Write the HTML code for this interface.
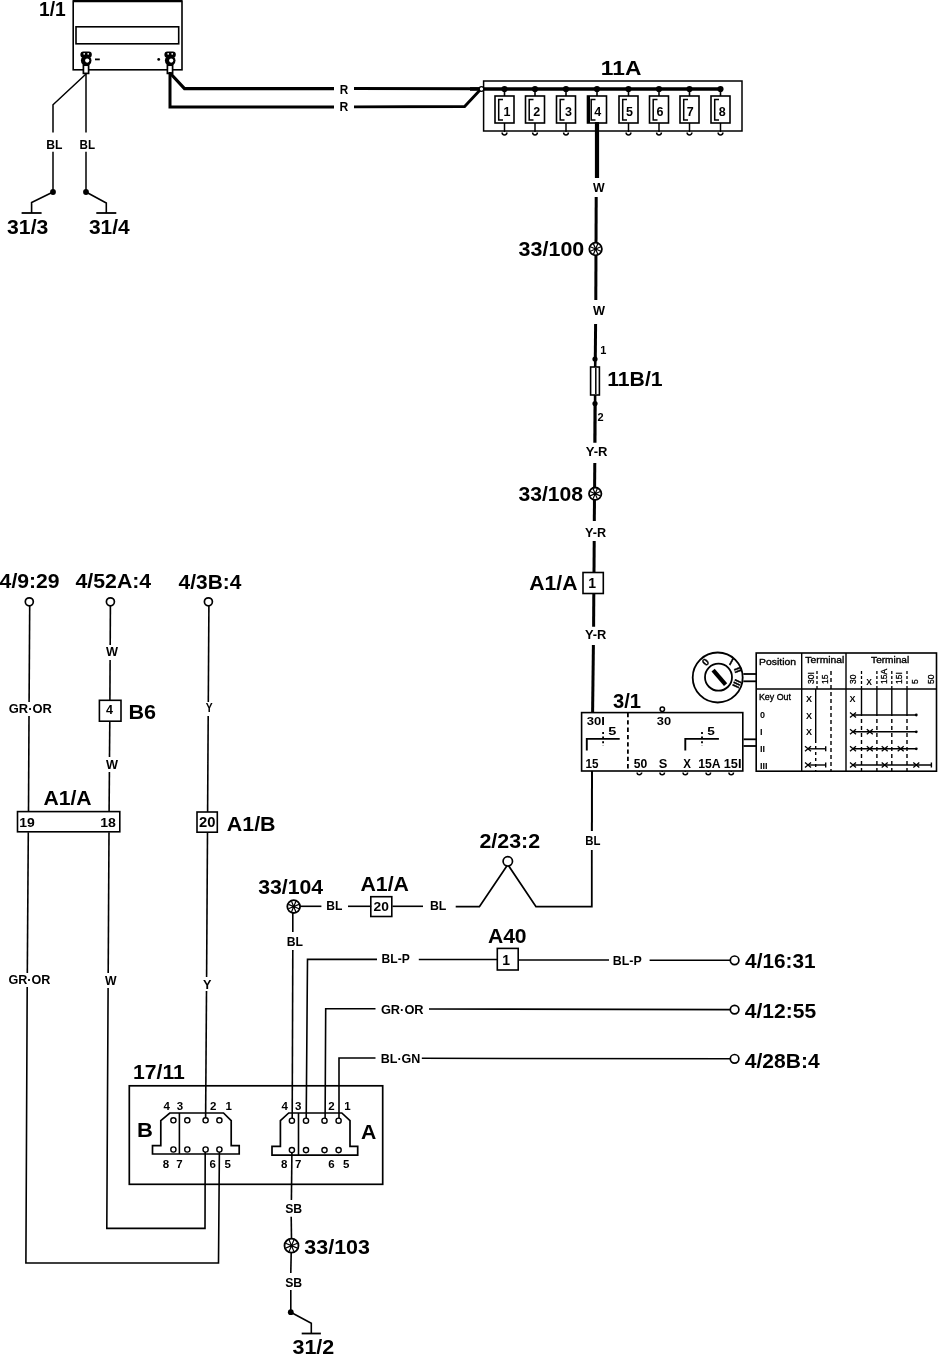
<!DOCTYPE html>
<html><head><meta charset="utf-8"><style>
html,body{margin:0;padding:0;background:#fff;width:938px;height:1355px;overflow:hidden}
svg{display:block}
text{font-family:"Liberation Sans",sans-serif;fill:#000}
svg{will-change:transform}
</style></head><body>
<svg width="938" height="1355" viewBox="0 0 938 1355" stroke="#000" fill="none">
<rect x="0" y="0" width="938" height="1355" fill="#fff" stroke="none"/>
<rect x="73.2" y="1.0" width="108.8" height="68.8" stroke-width="1.6" fill="none"/>
<line x1="73" y1="1.0" x2="182" y2="1.0" stroke-width="2.6"/>
<rect x="76" y="26.8" width="102.7" height="17" stroke-width="1.6" fill="none"/>
<rect x="80.4" y="51.4" width="11.4" height="6.4" rx="3" fill="#000" stroke="none"/>
<circle cx="86.2" cy="60.4" r="5.3" fill="#000" stroke="none"/>
<circle cx="87.2" cy="60.6" r="2.1" fill="#fff" stroke="none"/>
<circle cx="84.2" cy="53.8" r="0.9" fill="#fff" stroke="none"/>
<circle cx="88.2" cy="53.8" r="0.9" fill="#fff" stroke="none"/>
<rect x="83.4" y="65.2" width="5.2" height="8.2" stroke-width="1.7" fill="#fff"/>
<rect x="164.4" y="51.4" width="11.4" height="6.4" rx="3" fill="#000" stroke="none"/>
<circle cx="170.2" cy="60.4" r="5.3" fill="#000" stroke="none"/>
<circle cx="171.2" cy="60.6" r="2.1" fill="#fff" stroke="none"/>
<circle cx="168.2" cy="53.8" r="0.9" fill="#fff" stroke="none"/>
<circle cx="172.2" cy="53.8" r="0.9" fill="#fff" stroke="none"/>
<rect x="167.4" y="65.2" width="5.2" height="8.2" stroke-width="1.7" fill="#fff"/>
<line x1="95" y1="59.4" x2="99.8" y2="59.4" stroke-width="1.8"/>
<circle cx="158.7" cy="59.4" r="1.4" fill="#000" stroke="none"/>
<polyline points="86,74 53,104.8 53,132.6" stroke-width="1.5"/>
<line x1="53" y1="151.8" x2="53" y2="192" stroke-width="1.5"/>
<circle cx="53" cy="192" r="2.9" fill="#000" stroke="none"/>
<polyline points="53,192 31.6,202.5 31.6,213" stroke-width="1.6"/>
<line x1="21.6" y1="213" x2="41.6" y2="213" stroke-width="1.8"/>
<line x1="86" y1="74" x2="86" y2="132.6" stroke-width="1.5"/>
<line x1="86" y1="151.8" x2="86" y2="192" stroke-width="1.5"/>
<circle cx="86" cy="192" r="2.9" fill="#000" stroke="none"/>
<polyline points="86,192 106.3,203 106.3,213" stroke-width="1.6"/>
<line x1="96.3" y1="213" x2="116.3" y2="213" stroke-width="1.8"/>
<polyline points="170,73 184.5,88.6 334,88.6" stroke-width="3.2"/>
<polyline points="354,88.6 484,88.8" stroke-width="3.0"/>
<polyline points="170,72 170,107 334,107" stroke-width="3.0"/>
<polyline points="354,106.8 464.6,106.5 480.5,89.5" stroke-width="2.8"/>
<rect x="483.6" y="81" width="258.4" height="50" stroke-width="1.5" fill="none"/>
<line x1="470" y1="89" x2="721" y2="89" stroke-width="3.3"/>
<circle cx="481.5" cy="89" r="2.3" stroke-width="1.3" fill="#fff"/>
<circle cx="504.5" cy="89" r="3.1" fill="#000" stroke="none"/>
<line x1="504.5" y1="89" x2="504.5" y2="96" stroke-width="1.6"/>
<rect x="495.0" y="96" width="19" height="27" stroke-width="1.6" fill="none"/>
<polyline points="503.0,99.5 498.7,99.5 498.7,120 503.0,120" stroke-width="1.5"/>
<line x1="504.5" y1="123" x2="504.5" y2="132" stroke-width="1.5"/>
<path d="M502.1,132.6 a2.4,2.4 0 0 0 4.8,0" stroke-width="1.5" fill="none"/>
<circle cx="535" cy="89" r="3.1" fill="#000" stroke="none"/>
<line x1="535" y1="89" x2="535" y2="96" stroke-width="1.6"/>
<rect x="525.5" y="96" width="19" height="27" stroke-width="1.6" fill="none"/>
<polyline points="533.5,99.5 529.2,99.5 529.2,120 533.5,120" stroke-width="1.5"/>
<line x1="535" y1="123" x2="535" y2="132" stroke-width="1.5"/>
<path d="M532.6,132.6 a2.4,2.4 0 0 0 4.8,0" stroke-width="1.5" fill="none"/>
<circle cx="566" cy="89" r="3.1" fill="#000" stroke="none"/>
<line x1="566" y1="89" x2="566" y2="96" stroke-width="1.6"/>
<rect x="556.5" y="96" width="19" height="27" stroke-width="1.6" fill="none"/>
<polyline points="564.5,99.5 560.2,99.5 560.2,120 564.5,120" stroke-width="1.5"/>
<line x1="566" y1="123" x2="566" y2="132" stroke-width="1.5"/>
<path d="M563.6,132.6 a2.4,2.4 0 0 0 4.8,0" stroke-width="1.5" fill="none"/>
<circle cx="597" cy="89" r="3.1" fill="#000" stroke="none"/>
<line x1="597" y1="89" x2="597" y2="96" stroke-width="1.6"/>
<rect x="587.5" y="96" width="19" height="27" stroke-width="1.6" fill="none"/>
<polyline points="595.5,99.5 591.2,99.5 591.2,120 595.5,120" stroke-width="1.5"/>
<circle cx="628.5" cy="89" r="3.1" fill="#000" stroke="none"/>
<line x1="628.5" y1="89" x2="628.5" y2="96" stroke-width="1.6"/>
<rect x="619.0" y="96" width="19" height="27" stroke-width="1.6" fill="none"/>
<polyline points="627.0,99.5 622.7,99.5 622.7,120 627.0,120" stroke-width="1.5"/>
<line x1="628.5" y1="123" x2="628.5" y2="132" stroke-width="1.5"/>
<path d="M626.1,132.6 a2.4,2.4 0 0 0 4.8,0" stroke-width="1.5" fill="none"/>
<circle cx="659" cy="89" r="3.1" fill="#000" stroke="none"/>
<line x1="659" y1="89" x2="659" y2="96" stroke-width="1.6"/>
<rect x="649.5" y="96" width="19" height="27" stroke-width="1.6" fill="none"/>
<polyline points="657.5,99.5 653.2,99.5 653.2,120 657.5,120" stroke-width="1.5"/>
<line x1="659" y1="123" x2="659" y2="132" stroke-width="1.5"/>
<path d="M656.6,132.6 a2.4,2.4 0 0 0 4.8,0" stroke-width="1.5" fill="none"/>
<circle cx="689.5" cy="89" r="3.1" fill="#000" stroke="none"/>
<line x1="689.5" y1="89" x2="689.5" y2="96" stroke-width="1.6"/>
<rect x="680.0" y="96" width="19" height="27" stroke-width="1.6" fill="none"/>
<polyline points="688.0,99.5 683.7,99.5 683.7,120 688.0,120" stroke-width="1.5"/>
<line x1="689.5" y1="123" x2="689.5" y2="132" stroke-width="1.5"/>
<path d="M687.1,132.6 a2.4,2.4 0 0 0 4.8,0" stroke-width="1.5" fill="none"/>
<circle cx="720.5" cy="89" r="3.1" fill="#000" stroke="none"/>
<line x1="720.5" y1="89" x2="720.5" y2="96" stroke-width="1.6"/>
<rect x="711.0" y="96" width="19" height="27" stroke-width="1.6" fill="none"/>
<polyline points="719.0,99.5 714.7,99.5 714.7,120 719.0,120" stroke-width="1.5"/>
<line x1="720.5" y1="123" x2="720.5" y2="132" stroke-width="1.5"/>
<path d="M718.1,132.6 a2.4,2.4 0 0 0 4.8,0" stroke-width="1.5" fill="none"/>
<line x1="588.5" y1="96" x2="588.5" y2="123" stroke-width="3"/>
<line x1="597" y1="122" x2="597" y2="178" stroke-width="4.2"/>
<line x1="596.2" y1="197" x2="595.8" y2="300" stroke-width="3.0"/>
<circle cx="595.6" cy="249" r="6.3" stroke-width="1.8" fill="#fff"/>
<line x1="590.33" y1="246.82" x2="600.87" y2="251.18" stroke-width="1.2"/>
<line x1="593.42" y1="243.73" x2="597.78" y2="254.27" stroke-width="1.2"/>
<line x1="597.78" y1="243.73" x2="593.42" y2="254.27" stroke-width="1.2"/>
<line x1="600.87" y1="246.82" x2="590.33" y2="251.18" stroke-width="1.2"/>
<circle cx="595.6" cy="249" r="1.6" fill="#000" stroke="none"/>
<line x1="595.6" y1="324" x2="595.3" y2="359" stroke-width="3.0"/>
<circle cx="595" cy="359" r="2.6" fill="#000" stroke="none"/>
<rect x="590.6" y="367" width="8.8" height="28" stroke-width="1.6" fill="none"/>
<line x1="595.8" y1="368" x2="595.8" y2="394" stroke-width="1.5"/>
<line x1="595.3" y1="359" x2="595.2" y2="367" stroke-width="2.6"/>
<line x1="595.1" y1="395" x2="595.1" y2="403.5" stroke-width="2.6"/>
<circle cx="595" cy="403.5" r="2.6" fill="#000" stroke="none"/>
<line x1="595.1" y1="403.5" x2="594.9" y2="442.8" stroke-width="3.2"/>
<line x1="594.8" y1="463" x2="594.3" y2="521" stroke-width="3.0"/>
<circle cx="595.2" cy="493.7" r="6.2" stroke-width="1.8" fill="#fff"/>
<line x1="590.03" y1="491.56" x2="600.37" y2="495.84" stroke-width="1.2"/>
<line x1="593.06" y1="488.53" x2="597.34" y2="498.87" stroke-width="1.2"/>
<line x1="597.34" y1="488.53" x2="593.06" y2="498.87" stroke-width="1.2"/>
<line x1="600.37" y1="491.56" x2="590.03" y2="495.84" stroke-width="1.2"/>
<circle cx="595.2" cy="493.7" r="1.6" fill="#000" stroke="none"/>
<line x1="594.2" y1="541" x2="594.0" y2="572.5" stroke-width="3.0"/>
<rect x="583" y="572.5" width="20.3" height="21" stroke-width="1.6" fill="none"/>
<line x1="593.8" y1="593.5" x2="593.6" y2="626.7" stroke-width="3.0"/>
<line x1="593.4" y1="645" x2="592.6" y2="713" stroke-width="3.0"/>
<rect x="581.6" y="712.6" width="161.2" height="58.4" stroke-width="1.6" fill="none"/>
<line x1="627.9" y1="713" x2="627.9" y2="771" stroke-width="1.8" stroke-dasharray="4.3,3"/>
<circle cx="662.3" cy="709.3" r="2.2" stroke-width="1.5" fill="#fff"/>
<polyline points="586.8,750.4 586.8,738.9 619.7,738.9" stroke-width="1.9"/>
<line x1="603.1" y1="732" x2="603.1" y2="746" stroke-width="1.8" stroke-dasharray="2,2.6"/>
<polyline points="685.3,750.5 685.3,738.9 718.9,738.9" stroke-width="1.9"/>
<line x1="702" y1="732" x2="702" y2="746" stroke-width="1.8" stroke-dasharray="2,2.6"/>
<line x1="639.4" y1="771" x2="639.4" y2="772" stroke-width="1.5"/>
<path d="M637.1,772.4 a2.3,2.3 0 0 0 4.6,0" stroke-width="1.5" fill="none"/>
<line x1="662.2" y1="771" x2="662.2" y2="772" stroke-width="1.5"/>
<path d="M659.9000000000001,772.4 a2.3,2.3 0 0 0 4.6,0" stroke-width="1.5" fill="none"/>
<line x1="685.3" y1="771" x2="685.3" y2="772" stroke-width="1.5"/>
<path d="M683.0,772.4 a2.3,2.3 0 0 0 4.6,0" stroke-width="1.5" fill="none"/>
<line x1="708.3" y1="771" x2="708.3" y2="772" stroke-width="1.5"/>
<path d="M706.0,772.4 a2.3,2.3 0 0 0 4.6,0" stroke-width="1.5" fill="none"/>
<line x1="731.2" y1="771" x2="731.2" y2="772" stroke-width="1.5"/>
<path d="M728.9000000000001,772.4 a2.3,2.3 0 0 0 4.6,0" stroke-width="1.5" fill="none"/>
<line x1="743.5" y1="739.3" x2="756" y2="739.3" stroke-width="1.8"/>
<line x1="743.5" y1="746" x2="756" y2="746" stroke-width="1.8"/>
<line x1="592" y1="771" x2="591.9" y2="831" stroke-width="2.0"/>
<polyline points="591.8,850 591.8,906.7 536,906.7 507.8,864.5 479.4,906.7 455.7,906.7" stroke-width="1.8"/>
<circle cx="507.8" cy="861.3" r="4.7" stroke-width="1.7" fill="#fff"/>
<circle cx="717.7" cy="677.5" r="25" stroke-width="1.8" fill="none"/>
<circle cx="718.5" cy="677.2" r="13.5" stroke-width="1.8" fill="#fff"/>
<line x1="713.1" y1="670.2" x2="725.6" y2="684.6" stroke-width="4.2"/>
<line x1="743.3" y1="674" x2="756" y2="674" stroke-width="1.8"/>
<line x1="743.3" y1="681.3" x2="756" y2="681.3" stroke-width="1.8"/>
<text x="0" y="3.6" font-size="10" font-weight="bold" transform="translate(705.4,662) rotate(-45)" text-anchor="middle" stroke="#000" stroke-width="0.3">0</text>
<text x="0" y="3.6" font-size="10" font-weight="bold" transform="translate(731.4,661.6) rotate(28)" text-anchor="middle" stroke="#000" stroke-width="0.3">I</text>
<text x="0" y="3.6" font-size="10" font-weight="bold" transform="translate(738,669.8) rotate(70)" text-anchor="middle" stroke="#000" stroke-width="0.3">II</text>
<text x="0" y="3.6" font-size="10" font-weight="bold" transform="translate(737,683.7) rotate(115)" text-anchor="middle" stroke="#000" stroke-width="0.3">III</text>
<rect x="756.2" y="653" width="180.3" height="118.2" stroke-width="1.6" fill="none"/>
<line x1="756" y1="688.9" x2="936.5" y2="688.9" stroke-width="1.5"/>
<line x1="801.7" y1="653" x2="801.7" y2="771.2" stroke-width="1.4"/>
<line x1="846" y1="653" x2="846" y2="771.2" stroke-width="1.4"/>
<text x="0" y="0" font-size="8.5" font-weight="normal" stroke="#000" stroke-width="0.3" transform="translate(813.5,684) rotate(-90)">30I</text>
<text x="0" y="0" font-size="8.5" font-weight="normal" stroke="#000" stroke-width="0.3" transform="translate(827.5,684) rotate(-90)">15</text>
<text x="0" y="0" font-size="8.5" font-weight="normal" stroke="#000" stroke-width="0.3" transform="translate(856,684) rotate(-90)">30</text>
<text x="0" y="0" font-size="8.5" font-weight="normal" stroke="#000" stroke-width="0.3" transform="translate(918,684) rotate(-90)">5</text>
<text x="0" y="0" font-size="8.5" font-weight="normal" stroke="#000" stroke-width="0.3" transform="translate(886.7,684) rotate(-90)">15A</text>
<text x="0" y="0" font-size="8.5" font-weight="normal" stroke="#000" stroke-width="0.3" transform="translate(902,684) rotate(-90)">15I</text>
<text x="0" y="0" font-size="8.5" font-weight="normal" stroke="#000" stroke-width="0.3" transform="translate(933.6,684) rotate(-90)">50</text>
<line x1="815.7" y1="689" x2="815.7" y2="740" stroke-width="1.4"/>
<line x1="815.7" y1="740" x2="815.7" y2="771" stroke-width="1.4" stroke-dasharray="3,3"/>
<line x1="817" y1="671" x2="817" y2="689" stroke-width="1.3" stroke-dasharray="3,2"/>
<line x1="831" y1="671" x2="831" y2="771" stroke-width="1.4" stroke-dasharray="4,3"/>
<line x1="861.5" y1="671" x2="861.5" y2="689" stroke-width="1.3" stroke-dasharray="3,2"/>
<line x1="861.5" y1="689" x2="861.5" y2="712" stroke-width="1.4"/>
<line x1="861.5" y1="712" x2="861.5" y2="771" stroke-width="1.4" stroke-dasharray="4,3"/>
<line x1="876.9" y1="671" x2="876.9" y2="689" stroke-width="1.3" stroke-dasharray="3,2"/>
<line x1="876.9" y1="689" x2="876.9" y2="712" stroke-width="1.4"/>
<line x1="876.9" y1="712" x2="876.9" y2="771" stroke-width="1.4" stroke-dasharray="4,3"/>
<line x1="891.8" y1="671" x2="891.8" y2="689" stroke-width="1.3" stroke-dasharray="3,2"/>
<line x1="891.8" y1="689" x2="891.8" y2="712" stroke-width="1.4"/>
<line x1="891.8" y1="712" x2="891.8" y2="771" stroke-width="1.4" stroke-dasharray="4,3"/>
<line x1="907" y1="671" x2="907" y2="689" stroke-width="1.3" stroke-dasharray="3,2"/>
<line x1="907" y1="689" x2="907" y2="712" stroke-width="1.4"/>
<line x1="907" y1="712" x2="907" y2="771" stroke-width="1.4" stroke-dasharray="4,3"/>
<line x1="808" y1="748.8" x2="825.7" y2="748.8" stroke-width="1.4"/>
<path d="M805,746.3 L811,751.3 M805,751.3 L811,746.3" stroke-width="1.3"/>
<line x1="825.7" y1="746.3" x2="825.7" y2="751.3" stroke-width="1.4"/>
<line x1="808" y1="765" x2="825.7" y2="765" stroke-width="1.4"/>
<path d="M805,762.5 L811,767.5 M805,767.5 L811,762.5" stroke-width="1.3"/>
<line x1="825.7" y1="762.5" x2="825.7" y2="767.5" stroke-width="1.4"/>
<line x1="853" y1="715" x2="916.3" y2="715" stroke-width="1.4"/>
<path d="M850,712.5 L856,717.5 M850,717.5 L856,712.5" stroke-width="1.3"/>
<circle cx="916.3" cy="715" r="1.4" fill="#000" stroke="none"/>
<line x1="853" y1="731.8" x2="916.3" y2="731.8" stroke-width="1.4"/>
<path d="M850,729.3 L856,734.3 M850,734.3 L856,729.3" stroke-width="1.3"/>
<path d="M866.8,729.3 L872.8,734.3 M866.8,734.3 L872.8,729.3" stroke-width="1.3"/>
<circle cx="916.3" cy="731.8" r="1.4" fill="#000" stroke="none"/>
<line x1="853" y1="748.8" x2="916.3" y2="748.8" stroke-width="1.4"/>
<path d="M850,746.3 L856,751.3 M850,751.3 L856,746.3" stroke-width="1.3"/>
<path d="M866.8,746.3 L872.8,751.3 M866.8,751.3 L872.8,746.3" stroke-width="1.3"/>
<path d="M881.7,746.3 L887.7,751.3 M881.7,751.3 L887.7,746.3" stroke-width="1.3"/>
<path d="M897.7,746.3 L903.7,751.3 M897.7,751.3 L903.7,746.3" stroke-width="1.3"/>
<circle cx="916.3" cy="748.8" r="1.4" fill="#000" stroke="none"/>
<line x1="853" y1="765" x2="931.4" y2="765" stroke-width="1.4"/>
<path d="M850,762.5 L856,767.5 M850,767.5 L856,762.5" stroke-width="1.3"/>
<path d="M881.7,762.5 L887.7,767.5 M881.7,767.5 L887.7,762.5" stroke-width="1.3"/>
<path d="M913.3,762.5 L919.3,767.5 M913.3,767.5 L919.3,762.5" stroke-width="1.3"/>
<line x1="931.4" y1="762.5" x2="931.4" y2="767.5" stroke-width="1.4"/>
<circle cx="29.3" cy="601.8" r="4" stroke-width="1.7" fill="#fff"/>
<circle cx="110.4" cy="601.8" r="4" stroke-width="1.7" fill="#fff"/>
<circle cx="208.4" cy="601.8" r="4" stroke-width="1.7" fill="#fff"/>
<line x1="29.7" y1="606" x2="29.1" y2="702" stroke-width="1.6"/>
<line x1="29.0" y1="716" x2="28.5" y2="812" stroke-width="1.6"/>
<line x1="110.4" y1="606" x2="110.2" y2="645" stroke-width="1.6"/>
<line x1="110.1" y1="660" x2="109.9" y2="700.3" stroke-width="1.6"/>
<rect x="99.4" y="700.3" width="21.6" height="20.9" stroke-width="1.6" fill="none"/>
<line x1="109.8" y1="721.2" x2="109.5" y2="757" stroke-width="1.6"/>
<line x1="109.4" y1="772" x2="109.1" y2="812" stroke-width="1.6"/>
<line x1="208.9" y1="606" x2="208.3" y2="702" stroke-width="1.6"/>
<line x1="208.2" y1="716" x2="207.6" y2="812" stroke-width="1.6"/>
<rect x="197" y="812" width="20.3" height="20.2" stroke-width="1.6" fill="none"/>
<rect x="17.5" y="811.6" width="102.3" height="20.2" stroke-width="1.6" fill="none"/>
<line x1="28.3" y1="832.2" x2="27.3" y2="973" stroke-width="1.6"/>
<polyline points="27.2,987 25.9,1263 218.5,1263 219.4,1150" stroke-width="1.6"/>
<line x1="109.0" y1="832.2" x2="108.2" y2="973" stroke-width="1.6"/>
<polyline points="108.1,988 106.8,1228.4 205,1228.4 205.2,1150" stroke-width="1.6"/>
<line x1="207.5" y1="832" x2="206.6" y2="977" stroke-width="1.6"/>
<line x1="206.5" y1="991" x2="205.6" y2="1120" stroke-width="1.6"/>
<circle cx="293.7" cy="906.6" r="6.4" stroke-width="1.8" fill="#fff"/>
<line x1="288.34" y1="904.38" x2="299.06" y2="908.82" stroke-width="1.2"/>
<line x1="291.48" y1="901.24" x2="295.92" y2="911.96" stroke-width="1.2"/>
<line x1="295.92" y1="901.24" x2="291.48" y2="911.96" stroke-width="1.2"/>
<line x1="299.06" y1="904.38" x2="288.34" y2="908.82" stroke-width="1.2"/>
<circle cx="293.7" cy="906.6" r="1.6" fill="#000" stroke="none"/>
<line x1="300" y1="906.3" x2="321.4" y2="906.3" stroke-width="1.6"/>
<line x1="348" y1="906.3" x2="371.3" y2="906.3" stroke-width="1.6"/>
<rect x="370.8" y="896.7" width="21" height="19.8" stroke-width="1.6" fill="none"/>
<line x1="392.4" y1="906.3" x2="423" y2="906.3" stroke-width="1.6"/>
<line x1="292.8" y1="913" x2="292.8" y2="932" stroke-width="1.6"/>
<line x1="292.8" y1="950" x2="292.2" y2="1120" stroke-width="1.6"/>
<polyline points="306.2,1120 307.5,959.4 377,959.4" stroke-width="1.6"/>
<line x1="418.8" y1="959.5" x2="497.3" y2="959.5" stroke-width="1.6"/>
<rect x="497.3" y="948.4" width="20.9" height="21.6" stroke-width="1.6" fill="none"/>
<line x1="518.2" y1="960" x2="609" y2="960" stroke-width="1.6"/>
<line x1="649.6" y1="960.3" x2="730" y2="960.3" stroke-width="1.6"/>
<circle cx="734.6" cy="960.3" r="4.3" stroke-width="1.7" fill="#fff"/>
<polyline points="325.1,1120 325.7,1008.7 375.5,1008.7" stroke-width="1.6"/>
<line x1="429" y1="1009" x2="730.3" y2="1009.6" stroke-width="1.6"/>
<circle cx="734.6" cy="1009.6" r="4.3" stroke-width="1.7" fill="#fff"/>
<polyline points="339,1120 339,1058 375.5,1058" stroke-width="1.6"/>
<line x1="421.8" y1="1058.3" x2="730.3" y2="1058.8" stroke-width="1.6"/>
<circle cx="734.6" cy="1058.8" r="4.3" stroke-width="1.7" fill="#fff"/>
<rect x="129.3" y="1085.8" width="253.4" height="98.5" stroke-width="1.7" fill="none"/>
<polygon points="169.8,1113 223.5,1113 231.2,1120.7 231.2,1145.6 239.2,1145.6 239.2,1154 152.5,1154 152.5,1145.6 160.8,1145.6 160.8,1120.7" stroke-width="1.7"/>
<line x1="179.4" y1="1113" x2="179.4" y2="1154" stroke-width="1.6"/>
<circle cx="173.4" cy="1120.3" r="2.6" stroke-width="1.4" fill="#fff"/>
<circle cx="173.4" cy="1149.5" r="2.6" stroke-width="1.4" fill="#fff"/>
<circle cx="187.3" cy="1120.3" r="2.6" stroke-width="1.4" fill="#fff"/>
<circle cx="187.3" cy="1149.5" r="2.6" stroke-width="1.4" fill="#fff"/>
<circle cx="205.6" cy="1120.3" r="2.6" stroke-width="1.4" fill="#fff"/>
<circle cx="205.6" cy="1149.5" r="2.6" stroke-width="1.4" fill="#fff"/>
<circle cx="219.4" cy="1120.3" r="2.6" stroke-width="1.4" fill="#fff"/>
<circle cx="219.4" cy="1149.5" r="2.6" stroke-width="1.4" fill="#fff"/>
<polygon points="288.7,1113 341.8,1113 350,1120.7 350,1146.3 357.7,1146.3 357.7,1155.2 272,1155.2 272,1146.3 280.4,1146.3 280.4,1120.7" stroke-width="1.7"/>
<line x1="298.5" y1="1113" x2="298.5" y2="1155.2" stroke-width="1.6"/>
<circle cx="291.9" cy="1120.7" r="2.6" stroke-width="1.4" fill="#fff"/>
<circle cx="291.9" cy="1150.1" r="2.6" stroke-width="1.4" fill="#fff"/>
<circle cx="306" cy="1120.7" r="2.6" stroke-width="1.4" fill="#fff"/>
<circle cx="306" cy="1150.1" r="2.6" stroke-width="1.4" fill="#fff"/>
<circle cx="324.5" cy="1120.7" r="2.6" stroke-width="1.4" fill="#fff"/>
<circle cx="324.5" cy="1150.1" r="2.6" stroke-width="1.4" fill="#fff"/>
<circle cx="338.6" cy="1120.7" r="2.6" stroke-width="1.4" fill="#fff"/>
<circle cx="338.6" cy="1150.1" r="2.6" stroke-width="1.4" fill="#fff"/>
<line x1="291.9" y1="1152.7" x2="291.4" y2="1200" stroke-width="1.6"/>
<line x1="291.2" y1="1216.7" x2="291.5" y2="1238.5" stroke-width="1.6"/>
<circle cx="291.5" cy="1245.7" r="7" stroke-width="1.8" fill="#fff"/>
<line x1="285.59" y1="1243.25" x2="297.41" y2="1248.15" stroke-width="1.2"/>
<line x1="289.05" y1="1239.79" x2="293.95" y2="1251.61" stroke-width="1.2"/>
<line x1="293.95" y1="1239.79" x2="289.05" y2="1251.61" stroke-width="1.2"/>
<line x1="297.41" y1="1243.25" x2="285.59" y2="1248.15" stroke-width="1.2"/>
<circle cx="291.5" cy="1245.7" r="1.6" fill="#000" stroke="none"/>
<line x1="291.2" y1="1252.9" x2="290.8" y2="1273" stroke-width="1.6"/>
<line x1="290.8" y1="1290" x2="290.8" y2="1312.2" stroke-width="1.6"/>
<circle cx="290.8" cy="1312.2" r="2.9" fill="#000" stroke="none"/>
<polyline points="290.8,1312.2 311.3,1323.3 311.3,1333.5" stroke-width="1.6"/>
<line x1="301.7" y1="1333.5" x2="320.90000000000003" y2="1333.5" stroke-width="1.8"/>
<g stroke="none"><text x="38.94" y="16.10" font-size="21" font-weight="bold" textLength="26.74" lengthAdjust="spacingAndGlyphs" >1/1</text>
<text x="46.20" y="148.64" font-size="13" font-weight="bold" textLength="16.20" lengthAdjust="spacingAndGlyphs" >BL</text>
<text x="79.62" y="148.64" font-size="13" font-weight="bold" textLength="15.50" lengthAdjust="spacingAndGlyphs" >BL</text>
<text x="7.10" y="233.60" font-size="21" font-weight="bold" textLength="41.20" lengthAdjust="spacingAndGlyphs" >31/3</text>
<text x="88.90" y="233.60" font-size="21" font-weight="bold" textLength="40.80" lengthAdjust="spacingAndGlyphs" >31/4</text>
<text x="339.70" y="93.74" font-size="13.5" font-weight="bold" textLength="8.48" lengthAdjust="spacingAndGlyphs" >R</text>
<text x="339.44" y="111.00" font-size="13.5" font-weight="bold" textLength="8.74" lengthAdjust="spacingAndGlyphs" >R</text>
<text x="600.82" y="75.00" font-size="21" font-weight="bold" textLength="40.56" lengthAdjust="spacingAndGlyphs" >11A</text>
<text x="503.56" y="115.50" font-size="12.5" font-weight="bold">1</text>
<text x="533.30" y="115.50" font-size="12.5" font-weight="bold">2</text>
<text x="564.90" y="115.50" font-size="12.5" font-weight="bold">3</text>
<text x="594.24" y="115.50" font-size="12.5" font-weight="bold">4</text>
<text x="626.00" y="115.50" font-size="12.5" font-weight="bold">5</text>
<text x="656.38" y="115.50" font-size="12.5" font-weight="bold">6</text>
<text x="686.80" y="115.50" font-size="12.5" font-weight="bold">7</text>
<text x="718.76" y="115.50" font-size="12.5" font-weight="bold">8</text>
<text x="593.00" y="192.36" font-size="13" font-weight="bold" textLength="11.64" lengthAdjust="spacingAndGlyphs" >W</text>
<text x="518.60" y="256.18" font-size="21" font-weight="bold" textLength="65.70" lengthAdjust="spacingAndGlyphs" >33/100</text>
<text x="593.00" y="315.00" font-size="13" font-weight="bold" textLength="12.00" lengthAdjust="spacingAndGlyphs" >W</text>
<text x="600.36" y="353.64" font-size="11" font-weight="bold">1</text>
<text x="597.52" y="421.00" font-size="11" font-weight="bold">2</text>
<text x="607.16" y="385.60" font-size="21" font-weight="bold" textLength="55.44" lengthAdjust="spacingAndGlyphs" >11B/1</text>
<text x="585.66" y="455.72" font-size="13" font-weight="bold" textLength="21.74" lengthAdjust="spacingAndGlyphs" >Y-R</text>
<text x="518.40" y="500.60" font-size="21" font-weight="bold" textLength="64.70" lengthAdjust="spacingAndGlyphs" >33/108</text>
<text x="584.96" y="536.50" font-size="13" font-weight="bold" textLength="21.08" lengthAdjust="spacingAndGlyphs" >Y-R</text>
<text x="588.16" y="588.00" font-size="14" font-weight="bold">1</text>
<text x="529.18" y="589.60" font-size="21" font-weight="bold" textLength="48.34" lengthAdjust="spacingAndGlyphs" >A1/A</text>
<text x="584.96" y="639.00" font-size="13" font-weight="bold" textLength="21.44" lengthAdjust="spacingAndGlyphs" >Y-R</text>
<text x="613.04" y="707.60" font-size="21" font-weight="bold" textLength="28.06" lengthAdjust="spacingAndGlyphs" >3/1</text>
<text x="586.74" y="725.36" font-size="11.5" font-weight="bold" textLength="18.12" lengthAdjust="spacingAndGlyphs" >30I</text>
<text x="656.88" y="725.36" font-size="11.5" font-weight="bold" textLength="14.30" lengthAdjust="spacingAndGlyphs" >30</text>
<text x="608.18" y="734.50" font-size="11.5" font-weight="bold" textLength="8.08" lengthAdjust="spacingAndGlyphs" >5</text>
<text x="707.18" y="734.50" font-size="11.5" font-weight="bold" textLength="7.58" lengthAdjust="spacingAndGlyphs" >5</text>
<text x="585.48" y="768.14" font-size="12" font-weight="bold" textLength="13.00" lengthAdjust="spacingAndGlyphs" >15</text>
<text x="633.74" y="768.14" font-size="12" font-weight="bold" textLength="13.50" lengthAdjust="spacingAndGlyphs" >50</text>
<text x="658.74" y="768.14" font-size="12" font-weight="bold" textLength="8.58" lengthAdjust="spacingAndGlyphs" >S</text>
<text x="683.30" y="768.02" font-size="12" font-weight="bold" textLength="7.68" lengthAdjust="spacingAndGlyphs" >X</text>
<text x="698.18" y="768.02" font-size="12" font-weight="bold" textLength="22.46" lengthAdjust="spacingAndGlyphs" >15A</text>
<text x="723.70" y="768.14" font-size="12" font-weight="bold" textLength="17.76" lengthAdjust="spacingAndGlyphs" >15I</text>
<text x="585.20" y="845.22" font-size="13" font-weight="bold" textLength="15.20" lengthAdjust="spacingAndGlyphs" >BL</text>
<text x="479.40" y="847.60" font-size="21" font-weight="bold" textLength="60.72" lengthAdjust="spacingAndGlyphs" >2/23:2</text>
<text x="759.12" y="664.80" font-size="9.5" font-weight="normal" textLength="36.98" lengthAdjust="spacingAndGlyphs" stroke="#000" stroke-width="0.35">Position</text>
<text x="805.36" y="663.38" font-size="9.5" font-weight="normal" textLength="38.96" lengthAdjust="spacingAndGlyphs" stroke="#000" stroke-width="0.35">Terminal</text>
<text x="871.08" y="663.38" font-size="9.5" font-weight="normal" textLength="38.16" lengthAdjust="spacingAndGlyphs" stroke="#000" stroke-width="0.35">Terminal</text>
<text x="758.90" y="700.00" font-size="9.5" font-weight="normal" textLength="32.10" lengthAdjust="spacingAndGlyphs" stroke="#000" stroke-width="0.35">Key Out</text>
<text x="760" y="718" font-size="9" font-weight="bold">0</text>
<text x="760" y="735" font-size="9" font-weight="bold">I</text>
<text x="760" y="752" font-size="9" font-weight="bold">II</text>
<text x="760" y="768.5" font-size="9" font-weight="bold">III</text>
<text x="869" y="684.5" font-size="8.5" font-weight="bold" text-anchor="middle">X</text>
<text x="809" y="701.5" font-size="9" font-weight="bold" text-anchor="middle">X</text>
<text x="809" y="718.5" font-size="9" font-weight="bold" text-anchor="middle">X</text>
<text x="809" y="735.3" font-size="9" font-weight="bold" text-anchor="middle">X</text>
<text x="852.5" y="701.5" font-size="9" font-weight="bold" text-anchor="middle">X</text>
<text x="-0.40" y="588.40" font-size="21" font-weight="bold" textLength="60.00" lengthAdjust="spacingAndGlyphs" >4/9:29</text>
<text x="75.50" y="588.40" font-size="21" font-weight="bold" textLength="75.70" lengthAdjust="spacingAndGlyphs" >4/52A:4</text>
<text x="178.60" y="589.10" font-size="21" font-weight="bold" textLength="62.72" lengthAdjust="spacingAndGlyphs" >4/3B:4</text>
<text x="8.82" y="712.64" font-size="13" font-weight="bold" textLength="43.08" lengthAdjust="spacingAndGlyphs" >GR·OR</text>
<text x="106.00" y="655.50" font-size="13" font-weight="bold" textLength="12.00" lengthAdjust="spacingAndGlyphs" >W</text>
<text x="105.92" y="714.36" font-size="12.5" font-weight="bold">4</text>
<text x="128.46" y="719.38" font-size="21" font-weight="bold" textLength="27.62" lengthAdjust="spacingAndGlyphs" >B6</text>
<text x="106.00" y="769.00" font-size="13" font-weight="bold" textLength="12.00" lengthAdjust="spacingAndGlyphs" >W</text>
<text x="205.80" y="712.28" font-size="13" font-weight="bold" textLength="6.90" lengthAdjust="spacingAndGlyphs" >Y</text>
<text x="199.04" y="827.36" font-size="14" font-weight="bold" textLength="16.42" lengthAdjust="spacingAndGlyphs" >20</text>
<text x="226.78" y="830.66" font-size="21" font-weight="bold" textLength="48.84" lengthAdjust="spacingAndGlyphs" >A1/B</text>
<text x="19.28" y="827.36" font-size="13.5" font-weight="bold" textLength="15.54" lengthAdjust="spacingAndGlyphs" >19</text>
<text x="100.20" y="827.36" font-size="13.5" font-weight="bold" textLength="15.70" lengthAdjust="spacingAndGlyphs" >18</text>
<text x="43.40" y="805.28" font-size="21" font-weight="bold" textLength="48.26" lengthAdjust="spacingAndGlyphs" >A1/A</text>
<text x="8.40" y="983.50" font-size="13" font-weight="bold" textLength="42.00" lengthAdjust="spacingAndGlyphs" >GR·OR</text>
<text x="105.00" y="984.72" font-size="13" font-weight="bold" textLength="11.56" lengthAdjust="spacingAndGlyphs" >W</text>
<text x="202.96" y="988.64" font-size="13" font-weight="bold" textLength="8.44" lengthAdjust="spacingAndGlyphs" >Y</text>
<text x="258.16" y="894.28" font-size="21" font-weight="bold" textLength="65.04" lengthAdjust="spacingAndGlyphs" >33/104</text>
<text x="326.20" y="910.28" font-size="13" font-weight="bold" textLength="16.12" lengthAdjust="spacingAndGlyphs" >BL</text>
<text x="373.60" y="911.00" font-size="12.5" font-weight="bold" textLength="15.36" lengthAdjust="spacingAndGlyphs" >20</text>
<text x="360.46" y="890.66" font-size="21" font-weight="bold" textLength="48.58" lengthAdjust="spacingAndGlyphs" >A1/A</text>
<text x="429.92" y="910.28" font-size="13" font-weight="bold" textLength="16.48" lengthAdjust="spacingAndGlyphs" >BL</text>
<text x="286.78" y="945.78" font-size="13" font-weight="bold" textLength="16.26" lengthAdjust="spacingAndGlyphs" >BL</text>
<text x="381.62" y="962.78" font-size="13" font-weight="bold" textLength="28.20" lengthAdjust="spacingAndGlyphs" >BL-P</text>
<text x="502.30" y="965.00" font-size="14" font-weight="bold">1</text>
<text x="487.90" y="942.86" font-size="21" font-weight="bold" textLength="38.72" lengthAdjust="spacingAndGlyphs" >A40</text>
<text x="612.78" y="964.50" font-size="13" font-weight="bold" textLength="28.90" lengthAdjust="spacingAndGlyphs" >BL-P</text>
<text x="745.10" y="968.10" font-size="21" font-weight="bold" textLength="70.40" lengthAdjust="spacingAndGlyphs" >4/16:31</text>
<text x="380.90" y="1013.50" font-size="13" font-weight="bold" textLength="42.72" lengthAdjust="spacingAndGlyphs" >GR·OR</text>
<text x="744.80" y="1017.80" font-size="21" font-weight="bold" textLength="71.30" lengthAdjust="spacingAndGlyphs" >4/12:55</text>
<text x="380.70" y="1062.64" font-size="13" font-weight="bold" textLength="39.74" lengthAdjust="spacingAndGlyphs" >BL·GN</text>
<text x="744.80" y="1067.60" font-size="21" font-weight="bold" textLength="74.90" lengthAdjust="spacingAndGlyphs" >4/28B:4</text>
<text x="133.02" y="1079.10" font-size="21" font-weight="bold" textLength="51.86" lengthAdjust="spacingAndGlyphs" >17/11</text>
<text x="136.96" y="1137.22" font-size="21" font-weight="bold" textLength="15.90" lengthAdjust="spacingAndGlyphs" >B</text>
<text x="163.4" y="1109.8" font-size="11.5" font-weight="bold">4</text>
<text x="176.8" y="1109.8" font-size="11.5" font-weight="bold">3</text>
<text x="210" y="1109.8" font-size="11.5" font-weight="bold">2</text>
<text x="225.4" y="1109.8" font-size="11.5" font-weight="bold">1</text>
<text x="162.7" y="1168" font-size="11.5" font-weight="bold">8</text>
<text x="176.2" y="1168" font-size="11.5" font-weight="bold">7</text>
<text x="209.4" y="1168" font-size="11.5" font-weight="bold">6</text>
<text x="224.5" y="1168" font-size="11.5" font-weight="bold">5</text>
<text x="361.04" y="1139.22" font-size="21" font-weight="bold" textLength="15.34" lengthAdjust="spacingAndGlyphs" >A</text>
<text x="281.6" y="1109.8" font-size="11.5" font-weight="bold">4</text>
<text x="295" y="1109.8" font-size="11.5" font-weight="bold">3</text>
<text x="328.3" y="1109.8" font-size="11.5" font-weight="bold">2</text>
<text x="344.3" y="1109.8" font-size="11.5" font-weight="bold">1</text>
<text x="281" y="1168" font-size="11.5" font-weight="bold">8</text>
<text x="295" y="1168" font-size="11.5" font-weight="bold">7</text>
<text x="328.3" y="1168" font-size="11.5" font-weight="bold">6</text>
<text x="343" y="1168" font-size="11.5" font-weight="bold">5</text>
<text x="285.18" y="1213.22" font-size="13" font-weight="bold" textLength="17.00" lengthAdjust="spacingAndGlyphs" >SB</text>
<text x="304.32" y="1253.68" font-size="21" font-weight="bold" textLength="65.70" lengthAdjust="spacingAndGlyphs" >33/103</text>
<text x="285.18" y="1286.64" font-size="13" font-weight="bold" textLength="17.00" lengthAdjust="spacingAndGlyphs" >SB</text>
<text x="292.46" y="1353.60" font-size="21" font-weight="bold" textLength="41.84" lengthAdjust="spacingAndGlyphs" >31/2</text></g>
</svg>
</body></html>
